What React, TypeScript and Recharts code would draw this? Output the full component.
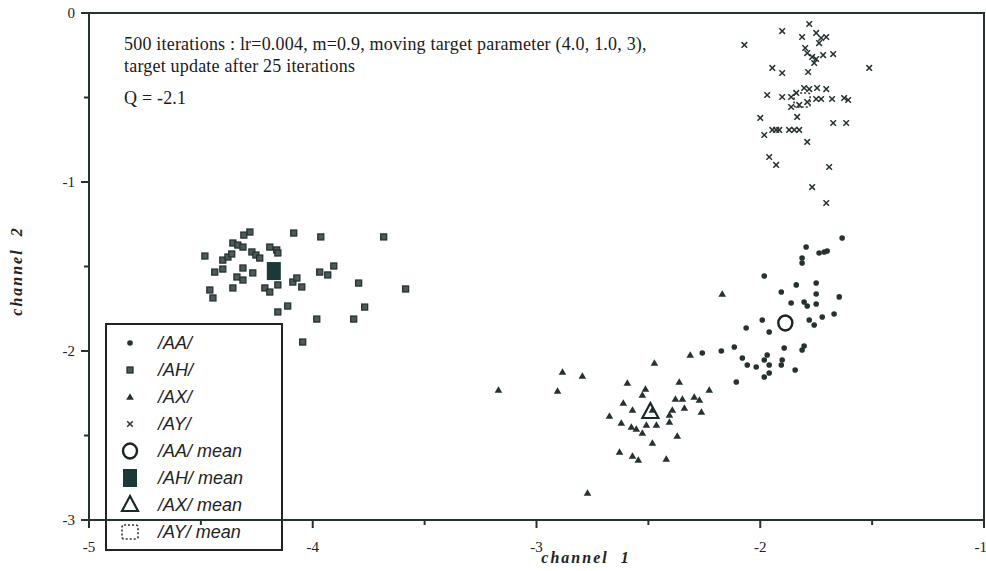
import React from 'react';
import { ScatterChart, Scatter, XAxis, YAxis, ReferenceArea, Customized } from 'recharts';

const xTicks = [-5, -4.5, -4, -3.5, -3, -2.5, -2, -1.5, -1];
const yTicks = [0, -0.5, -1, -1.5, -2, -2.5, -3];

const aaPoints: [number, number][] = [
  [-1.634, -1.331], [-1.795, -1.385], [-1.737, -1.42], [-1.714, -1.414], [-1.701, -1.408],
  [-1.813, -1.45], [-1.813, -1.479], [-1.982, -1.556], [-1.839, -1.609], [-1.75, -1.598],
  [-1.906, -1.651], [-1.75, -1.663], [-1.647, -1.68], [-1.862, -1.716], [-1.804, -1.71],
  [-1.79, -1.734], [-1.75, -1.722], [-1.723, -1.799], [-1.67, -1.781], [-1.781, -1.817],
  [-1.759, -1.846], [-1.991, -1.817], [-2.063, -1.864], [-1.96, -1.888], [-1.893, -1.982],
  [-1.804, -1.97], [-1.813, -1.994], [-2.116, -1.976], [-2.174, -2.0], [-2.259, -2.012],
  [-2.08, -2.041], [-2.058, -2.083], [-2.018, -2.095], [-1.969, -2.024], [-1.982, -2.053],
  [-1.96, -2.083], [-1.902, -2.053], [-1.906, -2.083], [-1.844, -2.112], [-1.96, -2.13],
  [-1.982, -2.154], [-2.107, -2.183],
];

const ahPoints: [number, number][] = [
  [-4.281, -1.296], [-4.308, -1.314], [-4.085, -1.302], [-3.964, -1.325], [-3.683, -1.325],
  [-4.482, -1.438], [-4.357, -1.361], [-4.335, -1.373], [-4.312, -1.385], [-4.402, -1.462],
  [-4.379, -1.444], [-4.362, -1.426], [-4.272, -1.414], [-4.254, -1.432], [-4.237, -1.45],
  [-4.192, -1.385], [-4.161, -1.402], [-4.156, -1.42], [-4.438, -1.533], [-4.402, -1.515],
  [-4.312, -1.509], [-4.268, -1.538], [-4.339, -1.562], [-4.312, -1.58], [-4.357, -1.627],
  [-4.46, -1.639], [-4.446, -1.686], [-4.214, -1.627], [-4.192, -1.651], [-4.156, -1.609],
  [-4.089, -1.592], [-4.071, -1.568], [-4.049, -1.621], [-3.969, -1.533], [-3.933, -1.55],
  [-3.906, -1.497], [-3.795, -1.598], [-3.585, -1.633], [-4.112, -1.734], [-4.156, -1.769],
  [-3.982, -1.811], [-3.817, -1.811], [-3.768, -1.74], [-4.045, -1.947],
];

const axPoints: [number, number][] = [
  [-3.17, -2.231], [-2.906, -2.237], [-2.884, -2.124], [-2.795, -2.148], [-2.772, -2.84],
  [-2.473, -2.071], [-2.17, -1.663], [-2.313, -2.024], [-2.594, -2.189], [-2.513, -2.225],
  [-2.527, -2.26], [-2.362, -2.183], [-2.379, -2.284], [-2.348, -2.284], [-2.295, -2.272],
  [-2.272, -2.29], [-2.263, -2.361], [-2.339, -2.337], [-2.228, -2.231], [-2.612, -2.308],
  [-2.571, -2.349], [-2.674, -2.385], [-2.621, -2.426], [-2.576, -2.45], [-2.554, -2.462],
  [-2.527, -2.485], [-2.509, -2.438], [-2.464, -2.438], [-2.406, -2.42], [-2.406, -2.379],
  [-2.393, -2.349], [-2.482, -2.349], [-2.371, -2.503], [-2.482, -2.544], [-2.629, -2.598],
  [-2.571, -2.621], [-2.545, -2.645], [-2.42, -2.639],
];

const ayPoints: [number, number][] = [
  [-1.781, -0.065], [-1.902, -0.107], [-2.071, -0.189], [-1.813, -0.142], [-1.75, -0.118],
  [-1.728, -0.148], [-1.705, -0.142], [-1.737, -0.178], [-1.799, -0.207], [-1.79, -0.237],
  [-1.768, -0.26], [-1.75, -0.272], [-1.719, -0.249], [-1.674, -0.243], [-1.759, -0.296],
  [-1.786, -0.349], [-1.946, -0.325], [-1.902, -0.355], [-1.513, -0.325], [-1.804, -0.444],
  [-1.781, -0.45], [-1.746, -0.444], [-1.705, -0.45], [-1.969, -0.485], [-1.902, -0.497],
  [-1.862, -0.497], [-1.839, -0.473], [-1.862, -0.556], [-1.826, -0.544], [-1.79, -0.527],
  [-1.75, -0.509], [-1.728, -0.509], [-1.679, -0.509], [-1.625, -0.503], [-1.607, -0.515],
  [-1.835, -0.615], [-2.0, -0.621], [-1.674, -0.651], [-1.616, -0.651], [-1.982, -0.722],
  [-1.946, -0.692], [-1.929, -0.692], [-1.915, -0.692], [-1.871, -0.692], [-1.848, -0.692],
  [-1.826, -0.692], [-1.79, -0.763], [-1.96, -0.852], [-1.929, -0.899], [-1.692, -0.911],
  [-1.768, -1.03], [-1.705, -1.124],
];

const aaMean: [number, number][] = [[-1.888, -1.834]];
const ahMean: [number, number][] = [[-4.174, -1.527]];
const axMean: [number, number][] = [[-2.491, -2.361]];
const ayMean: [number, number][] = [[-1.813, -0.515]];

const legendLabels = ['/AA/', '/AH/', '/AX/', '/AY/', '/AA/ mean', '/AH/ mean', '/AX/ mean', '/AY/ mean'];
const noteLines = [
  '500 iterations : lr=0.004, m=0.9, moving target parameter (4.0, 1.0, 3),',
  'target update after 25 iterations',
  'Q = -2.1',
];

const toData = (pts: [number, number][]) => pts.map(([x, y]) => ({ x, y }));

const INK = '#263232';
const SERIF = '"Liberation Serif", "Times New Roman", serif';
const SANS = '"Liberation Sans", Arial, sans-serif';

const drawDot = (cx: number, cy: number) => <circle cx={cx} cy={cy} r={2.8} fill={INK} />;
const drawSq = (cx: number, cy: number) => (
  <rect x={cx - 3} y={cy - 3} width={6} height={6} fill="#4d5a5a" stroke={INK} strokeWidth={1.3} />
);
const drawTri = (cx: number, cy: number) => (
  <polygon points={`${cx},${cy - 3.8} ${cx + 3.8},${cy + 2.7} ${cx - 3.8},${cy + 2.7}`} fill={INK} />
);
const drawCross = (cx: number, cy: number) => (
  <path d={`M${cx - 2.8},${cy - 2.8}L${cx + 2.8},${cy + 2.8}M${cx + 2.8},${cy - 2.8}L${cx - 2.8},${cy + 2.8}`} stroke={INK} strokeWidth={1.5} fill="none" />
);
const drawCircleMean = (cx: number, cy: number) => (
  <ellipse cx={cx} cy={cy} rx={7} ry={7.5} fill="none" stroke="#1a2222" strokeWidth={2.4} />
);
const drawSqMean = (cx: number, cy: number) => (
  <rect x={cx - 7} y={cy - 9} width={14} height={18} fill="#1d3838" />
);
const drawTriMean = (cx: number, cy: number) => (
  <polygon points={`${cx},${cy - 9} ${cx + 8},${cy + 6} ${cx - 8},${cy + 6}`} fill="none" stroke="#1a2a2a" strokeWidth={2.2} />
);
const drawDashMean = (cx: number, cy: number) => (
  <rect x={cx - 8} y={cy - 7} width={16} height={14} rx={2} fill="none" stroke="#333" strokeWidth={1.6} strokeDasharray="2 2" />
);

const shapeOf = (fn: (cx: number, cy: number) => React.ReactElement) => (p: any) => fn(p.cx, p.cy);

const XTick = (props: any) => {
  const { x, y, payload } = props;
  const v = payload.value as number;
  const major = Number.isInteger(v);
  const last = v === -1;
  return (
    <g>
      <line x1={x} y1={y} x2={x} y2={y + (major ? 8 : 5)} stroke={INK} strokeWidth={2} />
      {major && (
        <text x={last ? x + 3 : x} y={y + 32} textAnchor={last ? 'end' : 'middle'} fontFamily={SERIF} fontSize={15} fill="#222">
          {v}
        </text>
      )}
    </g>
  );
};

const YTick = (props: any) => {
  const { x, y, payload } = props;
  const v = payload.value as number;
  const major = Number.isInteger(v);
  return (
    <g>
      <line x1={x} y1={y} x2={x - (major ? 8 : 5)} y2={y} stroke={INK} strokeWidth={2} />
      {major && (
        <text x={x - 14} y={y + 5} textAnchor="end" fontFamily={SERIF} fontSize={15} fill="#222">
          {v}
        </text>
      )}
    </g>
  );
};

const legendSymbols = [drawDot, drawSq, drawTri, drawCross, drawCircleMean, drawSqMean, drawTriMean, drawDashMean];

const Overlay = () => (
  <g>
    <text fontFamily={SERIF} fontSize={18} letterSpacing={0.2} fill="#1a1a1a">
      <tspan x={124} y={50}>{noteLines[0]}</tspan>
      <tspan x={124} y={72}>{noteLines[1]}</tspan>
      <tspan x={124} y={104}>{noteLines[2]}</tspan>
    </text>
    <text x={586} y={563} textAnchor="middle" fontFamily={SERIF} fontSize={16} fontWeight="bold" fontStyle="italic" letterSpacing={2} wordSpacing={6} fill="#222">
      channel 1
    </text>
    <text x={18} y={271} textAnchor="middle" fontFamily={SERIF} fontSize={16} fontWeight="bold" fontStyle="italic" letterSpacing={2} wordSpacing={6} fill="#222" transform="rotate(-90 18 271)" dominantBaseline="middle">
      channel 2
    </text>
    <rect x={106} y={324} width={176} height={226} fill="#fff" stroke="#222" strokeWidth={2} />
    {legendLabels.map((lab, i) => {
      const cy = 343 + i * 27;
      return (
        <g key={lab}>
          {legendSymbols[i](130, cy)}
          <text x={158} y={cy + 6} fontFamily={SANS} fontSize={18} fontStyle="italic" fill="#222">
            {lab}
          </text>
        </g>
      );
    })}
  </g>
);

export default function App() {
  return (
    <div style={{ position: 'absolute', left: 0, top: 0, background: '#fff' }}>
      <ScatterChart width={986} height={571} margin={{ top: 13, right: 2, bottom: 21, left: 49 }}>
        <XAxis
          dataKey="x"
          type="number"
          domain={[-5, -1]}
          ticks={xTicks}
          interval={0}
          tickSize={0}
          tickMargin={0}
          height={30}
          tick={<XTick />}
          axisLine={{ stroke: INK, strokeWidth: 2 }}
          tickLine={false}
        />
        <YAxis
          dataKey="y"
          type="number"
          domain={[-3, 0]}
          ticks={yTicks}
          interval={0}
          tickSize={0}
          tickMargin={0}
          width={40}
          tick={<YTick />}
          axisLine={{ stroke: INK, strokeWidth: 2 }}
          tickLine={false}
        />
        <ReferenceArea x1={-5} x2={-1} y1={-3} y2={0} fill="none" stroke={INK} strokeWidth={2} fillOpacity={0} />
        <Scatter name="/AA/" data={toData(aaPoints)} shape={shapeOf(drawDot)} isAnimationActive={false} />
        <Scatter name="/AH/" data={toData(ahPoints)} shape={shapeOf(drawSq)} isAnimationActive={false} />
        <Scatter name="/AX/" data={toData(axPoints)} shape={shapeOf(drawTri)} isAnimationActive={false} />
        <Scatter name="/AY/" data={toData(ayPoints)} shape={shapeOf(drawCross)} isAnimationActive={false} />
        <Scatter name="/AA/ mean" data={toData(aaMean)} shape={shapeOf(drawCircleMean)} isAnimationActive={false} />
        <Scatter name="/AH/ mean" data={toData(ahMean)} shape={shapeOf(drawSqMean)} isAnimationActive={false} />
        <Scatter name="/AX/ mean" data={toData(axMean)} shape={shapeOf(drawTriMean)} isAnimationActive={false} />
        <Scatter name="/AY/ mean" data={toData(ayMean)} shape={shapeOf(drawDashMean)} isAnimationActive={false} />
        <Customized component={Overlay} />
      </ScatterChart>
    </div>
  );
}
